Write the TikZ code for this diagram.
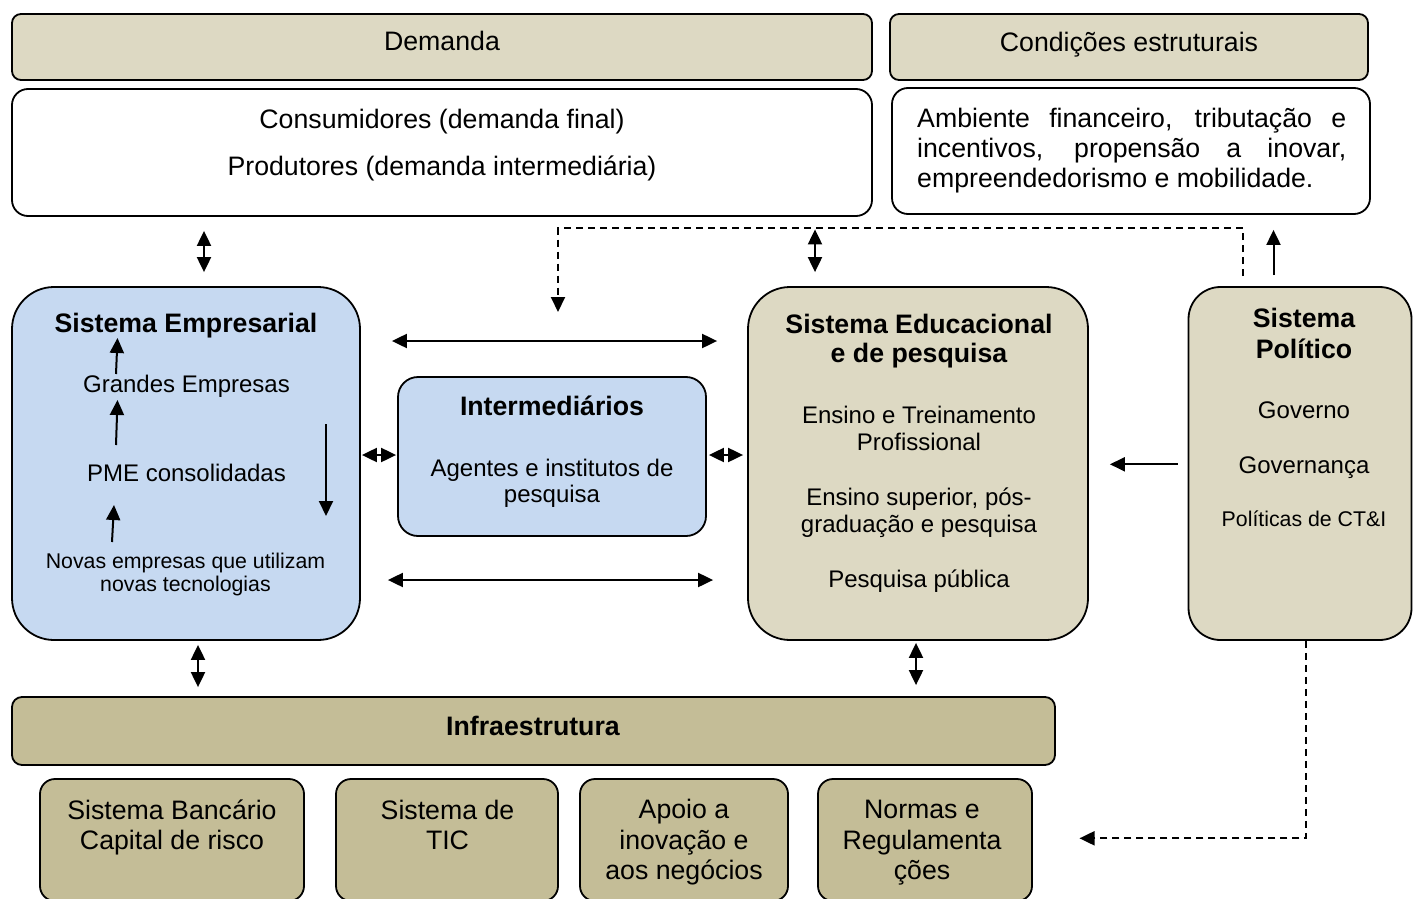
\documentclass[tikz,border=0pt]{standalone}
\usepackage{fontspec}
\setmainfont{Liberation Sans}
\usetikzlibrary{arrows.meta}
\definecolor{tanlight}{HTML}{DDD9C3}
\definecolor{tandark}{HTML}{C4BD97}
\definecolor{bluelight}{HTML}{C6D9F1}

\begin{document}
\begin{tikzpicture}[x=1pt,y=-1pt,
  box/.style={draw=black, line width=1.8pt, rectangle, inner sep=0pt},
  big/.style={font=\fontsize{26.7}{30.5}\selectfont},
  bigb/.style={font=\fontsize{26.7}{30.5}\selectfont\bfseries},
  mid/.style={font=\fontsize{24}{26.7}\selectfont},
  small/.style={font=\fontsize{21.3}{23.4}\selectfont},
  txt/.style={inner sep=0pt, anchor=base, align=center},
  tip/.tip={Triangle[length=15pt,width=14pt]},
  conn/.style={line width=2pt, -tip},
  dbl/.style={line width=2pt, tip-tip},
  dashconn/.style={line width=2pt, dash pattern=on 7pt off 5pt, -tip}]
\useasboundingbox (0,0) rectangle (1413,899);

% upper row: demand and structural conditions
\node[box, fill=tanlight, rounded corners=9pt, minimum width=860pt, minimum height=66pt] (dem) at (442,47) {};
\node[box, fill=tanlight, rounded corners=9pt, minimum width=478pt, minimum height=66pt] (cond) at (1129,47) {};
\node[box, fill=white, rounded corners=16pt, minimum width=860pt, minimum height=127pt] (cons) at (442,152.5) {};
\node[box, fill=white, rounded corners=16pt, minimum width=478pt, minimum height=126pt] (amb) at (1131,151) {};

\node[txt, big] (demt) at (442,51) {Demanda};
\node[txt, big] (condt) at (1129,51.5) {Condições estruturais};
\node[txt, big] (const) at (442,128.3) {Consumidores (demanda final)};
\node[txt, big] (prodt) at (442,175) {Produtores (demanda intermediária)};
\node[inner sep=0pt, anchor=base west, text width=429pt, align=justify,
      font=\fontsize{26.7}{30}\selectfont] (ambt) at (917,127.7)
  {\hyphenpenalty10000\relax\exhyphenpenalty10000\relax
   Ambiente financeiro, tributação e\linebreak incentivos, propensão a inovar,\linebreak empreendedorismo e mobilidade.};

% middle row: the subsystems
\node[box, fill=bluelight, rounded corners=42pt, minimum width=348pt, minimum height=353pt] (emp) at (186,463.5) {};
\node[box, fill=bluelight, rounded corners=20pt, minimum width=308pt, minimum height=159pt] (inter) at (552,456.5) {};
\node[box, fill=tanlight, rounded corners=42pt, minimum width=340pt, minimum height=353pt] (edu) at (918,463.5) {};
\node[box, fill=tanlight, rounded corners=32pt, minimum width=223pt, minimum height=353pt] (pol) at (1300,463.5) {};

\node[txt, bigb] (empt) at (186,332.3) {Sistema Empresarial};
\node[txt, mid] (ge) at (186.5,392.3) {Grandes Empresas};
\node[txt, mid] (pme) at (186.5,481) {PME consolidadas};
\node[txt, small] (nov) at (185.5,591.7) {Novas empresas que utilizam\\novas tecnologias};

\node[txt, bigb] (intt) at (552,415.7) {Intermediários};
\node[txt, mid] (age) at (552,502.7) {Agentes e institutos de\\pesquisa};

\node[txt, font=\fontsize{26.7}{29.5}\selectfont\bfseries] (edut) at (919,362.5) {Sistema Educacional\\e de pesquisa};
\node[txt, mid] (ens1) at (919,450.2) {Ensino e Treinamento\\Profissional};
\node[txt, mid] (ens2) at (919,532.3) {Ensino superior, pós-\\graduação e pesquisa};
\node[txt, mid] (pesq) at (919,587.3) {Pesquisa pública};

\node[txt, font=\fontsize{26.7}{31}\selectfont\bfseries] (polt) at (1304,358.5) {Sistema\\Político};
\node[txt, mid] (gov) at (1304,418.3) {Governo};
\node[txt, mid] (govn) at (1304,473.3) {Governança};
\node[txt, small] (ctei) at (1304,526) {Políticas de CT\&I};

% lower row: infrastructure
\node[box, fill=tandark, rounded corners=10pt, minimum width=1043pt, minimum height=68pt] (infra) at (533.5,731) {};
\node[box, fill=tandark, rounded corners=15pt, minimum width=264pt, minimum height=122pt] (b1) at (172,840) {};
\node[box, fill=tandark, rounded corners=15pt, minimum width=222pt, minimum height=122pt] (b2) at (447,840) {};
\node[box, fill=tandark, rounded corners=15pt, minimum width=208pt, minimum height=122pt] (b3) at (684,840) {};
\node[box, fill=tandark, rounded corners=15pt, minimum width=214pt, minimum height=122pt] (b4) at (925,840) {};

\node[txt, bigb] (inft) at (533,735.5) {Infraestrutura};
\node[txt, font=\fontsize{26.7}{30.5}\selectfont] (b1t) at (172,849.5) {Sistema Bancário\\Capital de risco};
\node[txt, font=\fontsize{26.7}{30.5}\selectfont] (b2t) at (447.5,849.5) {Sistema de\\TIC};
\node[txt, font=\fontsize{26.7}{30.8}\selectfont] (b3t) at (684,879.9) {Apoio a\\inovação e\\aos negócios};
\node[txt, font=\fontsize{26.7}{30.8}\selectfont] (b4t) at (922,879.9) {Normas e\\Regulamenta\\ções};

% reference lines for the connectors
\coordinate (xa) at (204,0);
\coordinate (xb) at (815,0);
\coordinate (xc) at (1273.5,0);
\coordinate (xd) at (1243,0);
\coordinate (xe) at (558,0);
\coordinate (xf) at (198,0);
\coordinate (xg) at (916,0);
\coordinate (xh) at (1306,0);
\coordinate (yd) at (0,228.3);
\coordinate (ya) at (0,341);
\coordinate (yb) at (0,580);
\coordinate (yc) at (0,455);
\coordinate (yp) at (0,464.3);
\coordinate (yq) at (0,838.3);
\coordinate (dtip) at (558,312);
\coordinate (dtip2) at (1079.5,838.3);

% connectors between the blocks
\draw[dbl, shorten <=14pt, shorten >=14pt] (cons.south -| xa) -- (emp.north -| xa);
\draw[dbl, shorten <=12.5pt, shorten >=14pt] (cons.south -| xb) -- (edu.north -| xb);
\draw[conn, shorten <=11pt, shorten >=15pt] (pol.north -| xc) -- (amb.south -| xc);
\draw[dashconn, shorten <=10pt] (pol.north -| xd) -- (xd |- yd) -- (xe |- yd) -- (dtip);
\draw[dbl, shorten <=31pt, shorten >=30pt] (emp.east |- ya) -- (edu.west |- ya);
\draw[dbl, shorten <=27pt, shorten >=34pt] (emp.east |- yb) -- (edu.west |- yb);
\draw[dbl, shorten <=1pt, shorten >=1pt] (emp.east |- yc) -- (inter.west |- yc);
\draw[dbl, shorten <=2pt, shorten >=4pt] (inter.east |- yc) -- (edu.west |- yc);
\draw[conn, shorten <=10pt, shorten >=21pt] (pol.west |- yp) -- (edu.east |- yp);
\draw[dbl, shorten <=4pt, shorten >=9pt] (emp.south -| xf) -- (infra.north -| xf);
\draw[dbl, shorten <=2pt, shorten >=11pt] (edu.south -| xg) -- (infra.north -| xg);
\draw[dashconn] (pol.south -| xh) -- (xh |- yq) -- (dtip2);

% growth path inside the business system
\coordinate (g1s) at (116,374);
\coordinate (g1e) at (117.5,338);
\coordinate (g2s) at (116,445);
\coordinate (g2e) at (117.5,400);
\coordinate (g3s) at (112,542);
\coordinate (g3e) at (114,505);
\coordinate (g4s) at (326,424);
\coordinate (g4e) at (326,516);
\draw[conn] (g1s) -- (g1e);
\draw[conn] (g2s) -- (g2e);
\draw[conn] (g3s) -- (g3e);
\draw[conn] (g4s) -- (g4e);
\end{tikzpicture}
\end{document}
